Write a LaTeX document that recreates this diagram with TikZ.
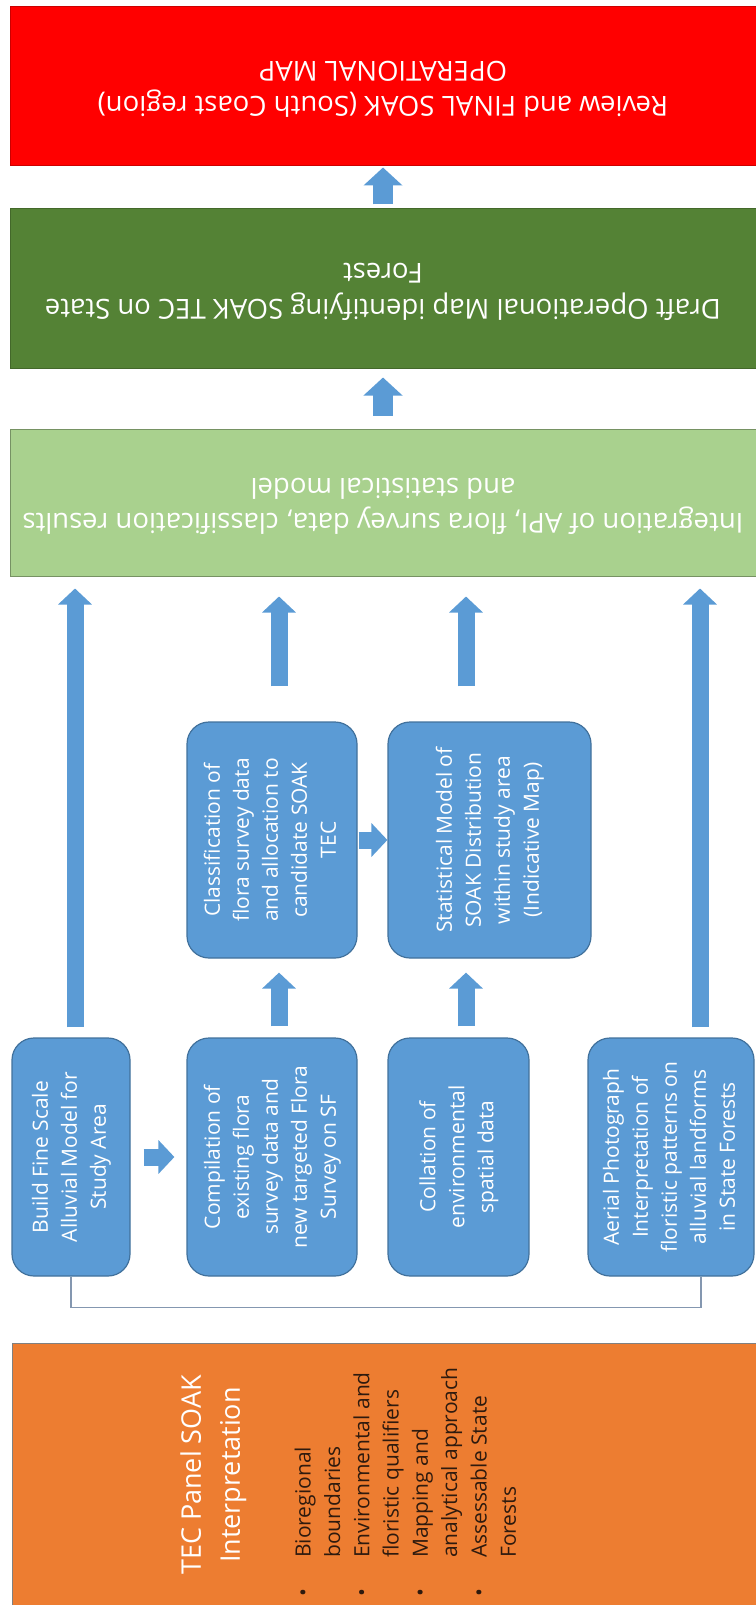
\documentclass[tikz,border=0pt]{standalone}
\usepackage{fontspec}
\setmainfont{Open Sans}
\usetikzlibrary{arrows.meta,positioning}
\definecolor{boxblue}{HTML}{5B9BD5}
\definecolor{boxblueline}{HTML}{41719C}
\definecolor{finalred}{HTML}{FF0000}
\definecolor{draftgreen}{HTML}{548235}
\definecolor{integgreen}{HTML}{A9D18E}
\definecolor{panelorange}{HTML}{ED7D31}
\definecolor{bracketgray}{HTML}{8497B0}
\definecolor{bullettext}{HTML}{2E1A0E}
\newcommand{\uptext}[1]{\rotatebox{90}{\begin{tabular}{@{}c@{}}#1\end{tabular}}}
\newcommand{\flipped}[1]{\rotatebox{180}{\begin{tabular}{@{}c@{}}#1\end{tabular}}}

\begin{document}
\begin{tikzpicture}[x=1pt,y=-1pt]
		\tikzstyle{topbox}=[rectangle,inner sep=0pt,line width=1pt,text=white,font=\fontsize{27.5}{35}\selectfont]
		\tikzstyle{stepbox}=[rectangle,rounded corners=22pt,fill=boxblue,draw=boxblueline,line width=1.2pt,inner sep=0pt,text=white,font=\fontsize{21}{29}\selectfont]
		\tikzstyle{bigarrow}=[draw=boxblue,line width=20pt,-{Triangle[length=18pt,width=38pt]}]
		\tikzstyle{flow}=[draw=boxblue,line width=17pt,-{Triangle[length=16pt,width=33pt]}]
		\tikzstyle{bracket}=[draw=bracketgray,line width=1.5pt]
		
		\useasboundingbox (0,0) rectangle (755,1605);
		
		\node[topbox,fill=finalred,draw=finalred!80!black,minimum width=746,minimum height=159] (final) at (383,86.5) {\flipped{Review and FINAL SOAK (South Coast region)\\OPERATIONAL MAP}};
		\node[topbox,fill=draftgreen,draw=draftgreen!80!black,minimum width=746,minimum height=159] (draft) at (383,288.5) {\flipped{Draft Operational Map identifying SOAK TEC on State\\Forest}};
		\node[topbox,fill=integgreen,draw=integgreen!70!black,minimum width=746,minimum height=147] (integ) at (383,502.5) {\flipped{Integration of API, flora survey data, classification results\\and statistical model}};
		
		\node[stepbox,minimum width=170,minimum height=236] (class) at (272,840) {\uptext{Classification of\\flora survey data\\and allocation to\\candidate SOAK\\TEC}};
		\node[stepbox,minimum width=203,minimum height=236] (stat) at (489.5,840) {\uptext{Statistical Model of\\SOAK Distribution\\within study area\\(Indicative Map)}};
		\node[stepbox,minimum width=118,minimum height=238] (build) at (71,1157) {\uptext{Build Fine Scale\\Alluvial Model for\\Study Area}};
		\node[stepbox,minimum width=170,minimum height=238] (comp) at (272,1157) {\uptext{Compilation of\\existing flora\\survey data and\\new targeted Flora\\Survey on SF}};
		\node[stepbox,minimum width=141,minimum height=238] (coll) at (458.5,1157) {\uptext{Collation of\\environmental\\spatial data}};
		\node[stepbox,minimum width=166,minimum height=238] (aerial) at (671,1157) {\uptext{Aerial Photograph\\Interpretation of\\floristic patterns on\\alluvial landforms\\in State Forests}};
		
		\node[rectangle,fill=panelorange,draw=gray,line width=1pt,minimum width=745,minimum height=264] (panel) at (384.5,1475) {};
		\node[text=white,inner sep=0pt,font=\fontsize{27}{39}\selectfont] (paneltitle) at (212.5,1475) {\uptext{TEC Panel SOAK\\Interpretation}};
		\node[anchor=south west,inner sep=0pt,text=bullettext,font=\fontsize{21}{29.3}\selectfont] (panellist) at (290,1597) {\rotatebox{90}{\begin{tabular}{@{}l@{\hspace{31pt}}l@{}}
			\makebox[8pt]{\textbullet} & Bioregional\\ & boundaries\\
			\makebox[8pt]{\textbullet} & Environmental and\\ & floristic qualifiers\\
			\makebox[8pt]{\textbullet} & Mapping and\\ & analytical approach\\
			\makebox[8pt]{\textbullet} & Assessable State\\ & Forests
		\end{tabular}}};
		
		\coordinate (buildout) at ([xshift=4pt]build.north);
		\coordinate (compout) at ([xshift=7pt]comp.north);
		\coordinate (collout) at ([xshift=7.5pt]coll.north);
		\coordinate (classout) at ([xshift=7pt]class.north);
		\coordinate (statout) at ([xshift=-23.5pt]stat.north);
		\coordinate (aerialout) at ([xshift=29pt]aerial.north);
		
		\draw[bigarrow,shorten <=4pt,shorten >=1pt] (draft) -- (final);
		\draw[bigarrow,shorten <=13pt,shorten >=9pt] (integ) -- (draft);
		\draw[flow,shorten <=10pt,shorten >=12pt] (buildout) -- (buildout |- integ.south);
		\draw[flow,shorten <=10pt,shorten >=12pt] (aerialout) -- (aerialout |- integ.south);
		\draw[flow,shorten <=11pt,shorten >=14pt] (compout) -- (compout |- class.south);
		\draw[flow,shorten <=11pt,shorten >=14pt] (collout) -- (collout |- stat.south);
		\draw[flow,shorten <=35pt,shorten >=20pt] (classout) -- (classout |- integ.south);
		\draw[flow,shorten <=35pt,shorten >=20pt] (statout) -- (statout |- integ.south);
		\draw[flow,shorten <=13pt,shorten >=12pt] (build) -- (comp);
		\draw[flow,shorten <=1pt] (class) -- (stat);
		\draw[bracket] (build.south) -- ++(0,31) -| ([xshift=30pt]aerial.south);
		\end{tikzpicture}
\end{document}
